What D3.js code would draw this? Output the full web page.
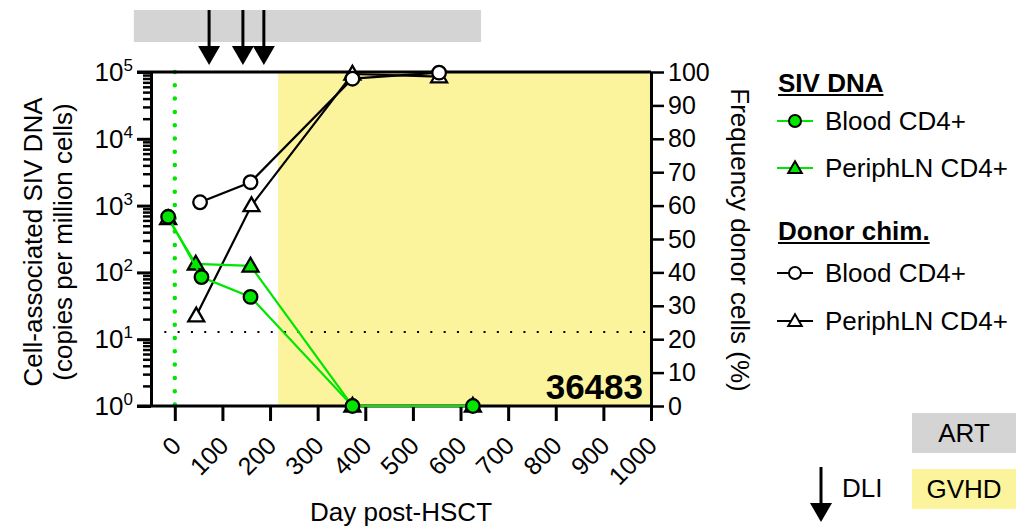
<!DOCTYPE html>
<html>
<head>
<meta charset="utf-8">
<script src="https://cdn.jsdelivr.net/npm/d3@7"></script>
<style>
  html, body { margin: 0; padding: 0; background: #fff; }
  svg { display: block; font-family: "Liberation Sans", Arial, Helvetica, sans-serif; }
</style>
</head>
<body>
<svg id="chart" width="1035" height="530"></svg>
<script>
// ---------------- data ----------------
const sivBloodDays = [-14, 56, 159, 373, 626];
const sivBloodVals = [680, 85, 43, 1, 1];
const sivLNDays = [-14, 44, 159, 373, 626];
const sivLNVals = [640, 134, 125, 1, 1];
const chimBloodDays = [53, 159, 373, 555];
const chimBloodVals = [61, 67, 98, 99.8];
const chimLNDays = [45, 161, 373, 555];
const chimLNVals = [27, 60, 99.4, 98.6];
const dliDays = [72, 143, 187];
const artPeriod = [-86, 643];
const gvhdPeriod = [217, 1000];
const detectionLimit = 12.8;
const detectionStart = -22;
const xTicks = [0, 100, 200, 300, 400, 500, 600, 700, 800, 900, 1000];
const yLeftExponents = [0, 1, 2, 3, 4, 5];
const yRightTicks = [0, 10, 20, 30, 40, 50, 60, 70, 80, 90, 100];
const animalId = "36483";

const GREEN = "#00e600";
const YELLOW = "#fbf49d";
const GRAY = "#d4d4d4";
const FS = 26;

const svg = d3.select("#chart");

const L = 151, R = 651, T = 72, B = 406;
const x = d3.scaleLinear().domain([-50, 1000]).range([L, R]);
const yL = d3.scaleLog().domain([1, 1e5]).range([B, T]);
const yR = d3.scaleLinear().domain([0, 100]).range([B, T]);

// GVHD background
svg.append("rect")
  .attr("x", x(gvhdPeriod[0])).attr("y", T)
  .attr("width", x(gvhdPeriod[1]) - x(gvhdPeriod[0]))
  .attr("height", B - T)
  .attr("fill", YELLOW);

// ART bar
svg.append("rect")
  .attr("x", x(artPeriod[0])).attr("y", 10)
  .attr("width", x(artPeriod[1]) - x(artPeriod[0]))
  .attr("height", 32)
  .attr("fill", GRAY);

// DLI arrows
function arrow(g, cx, y0, y1) {
  g.append("line").attr("x1", cx).attr("x2", cx).attr("y1", y0).attr("y2", y1 - 14)
    .attr("stroke", "#000").attr("stroke-width", 3);
  g.append("path")
    .attr("d", `M${cx - 11},${y1 - 19} L${cx + 11},${y1 - 19} L${cx},${y1} Z`)
    .attr("fill", "#000");
}
const arrowsG = svg.append("g");
dliDays.forEach(d => arrow(arrowsG, x(d), 10, 65));

// dotted lines
svg.append("line")
  .attr("x1", x(0)).attr("x2", x(0)).attr("y1", T).attr("y2", B)
  .attr("stroke", GREEN).attr("stroke-width", 4.5)
  .attr("stroke-linecap", "round").attr("stroke-dasharray", "0 13.3");
svg.append("line")
  .attr("x1", x(detectionStart)).attr("x2", R).attr("y1", yL(detectionLimit)).attr("y2", yL(detectionLimit))
  .attr("stroke", "#000").attr("stroke-width", 2)
  .attr("stroke-dasharray", "2 11.3");

// frame top line
svg.append("line").attr("x1", 137).attr("x2", R).attr("y1", T).attr("y2", T)
  .attr("stroke", "#000").attr("stroke-width", 3);

// ---------------- axes ----------------
const minorVals = [];
for (let e = 0; e < 5; e++) for (let m = 2; m <= 9; m++) minorVals.push(m * Math.pow(10, e));
const leftMinor = svg.append("g").attr("transform", `translate(${L},0)`)
  .call(d3.axisLeft(yL).tickValues(minorVals).tickSize(8).tickFormat(""));
leftMinor.select(".domain").remove();
leftMinor.selectAll(".tick line").attr("stroke-width", 2.5);

const leftMajor = svg.append("g").attr("transform", `translate(${L},0)`)
  .call(d3.axisLeft(yL).tickValues(yLeftExponents.map(e => Math.pow(10, e))).tickSize(14).tickSizeOuter(0).tickFormat(""));
leftMajor.select(".domain").attr("stroke-width", 3);
leftMajor.selectAll(".tick line").attr("stroke-width", 3);

const leftLabels = svg.append("g");
yLeftExponents.forEach(e => {
  const t = leftLabels.append("text")
    .attr("x", 133).attr("y", yL(Math.pow(10, e)) + 9)
    .attr("text-anchor", "end").attr("font-size", FS).attr("fill", "#000");
  t.append("tspan").text("10");
  t.append("tspan").attr("dy", -10).attr("font-size", 17).text(String(e));
});

// right axis
const rightAx = svg.append("g").attr("transform", `translate(${R},0)`)
  .call(d3.axisRight(yR).tickValues(yRightTicks).tickSize(13).tickPadding(4).tickSizeOuter(0));
rightAx.select(".domain").attr("stroke-width", 3);
rightAx.selectAll(".tick line").attr("stroke-width", 2.5);
rightAx.selectAll(".tick text").attr("font-size", 25).attr("fill", "#000")
  .attr("font-family", "Liberation Sans, Arial, sans-serif");

// bottom axis
const bottomAx = svg.append("g").attr("transform", `translate(0,${B})`)
  .call(d3.axisBottom(x).tickValues(xTicks).tickFormat(d3.format("d")).tickSize(15).tickSizeOuter(0));
bottomAx.select(".domain").remove();
svg.append("line").attr("x1", 137).attr("x2", R + 1.5).attr("y1", B).attr("y2", B)
  .attr("stroke", "#000").attr("stroke-width", 3);
bottomAx.selectAll(".tick line").attr("stroke-width", 3);
bottomAx.selectAll(".tick text")
  .attr("x", 0).attr("y", 0).attr("dy", "0.35em")
  .attr("text-anchor", "end")
  .attr("transform", "translate(1,35) rotate(-45)")
  .attr("font-size", 25).attr("fill", "#000")
  .attr("font-family", "Liberation Sans, Arial, sans-serif");

// axis titles
svg.append("text").attr("transform", "translate(42,242) rotate(-90)")
  .attr("text-anchor", "middle").attr("font-size", FS).text("Cell-associated SIV DNA");
svg.append("text").attr("transform", "translate(72,242) rotate(-90)")
  .attr("text-anchor", "middle").attr("font-size", FS).text("(copies per million cells)");
svg.append("text").attr("transform", "translate(731,240) rotate(90)")
  .attr("text-anchor", "middle").attr("font-size", FS).text("Frequency donor cells (%)");
svg.append("text").attr("x", 401).attr("y", 521)
  .attr("text-anchor", "middle").attr("font-size", FS).text("Day post-HSCT");

// ---------------- series ----------------
const tri = d3.symbol(d3.symbolTriangle, 110);
function series(days, vals, yScale, color, shape, fill) {
  const pts = days.map((d, i) => [x(d), yScale(vals[i])]);
  const g = svg.append("g");
  g.append("path").attr("d", d3.line()(pts))
    .attr("fill", "none").attr("stroke", color).attr("stroke-width", 2.2);
  pts.forEach(p => {
    if (shape === "circle") {
      g.append("circle").attr("cx", p[0]).attr("cy", p[1]).attr("r", 6.8)
        .attr("fill", fill).attr("stroke", "#000").attr("stroke-width", 2.3);
    } else {
      g.append("path").attr("d", tri()).attr("transform", `translate(${p[0]},${p[1] + 1})`)
        .attr("fill", fill).attr("stroke", "#000").attr("stroke-width", 2.3);
    }
  });
}
series(chimLNDays, chimLNVals, yR, "#000", "triangle", "#fff");
series(chimBloodDays, chimBloodVals, yR, "#000", "circle", "#fff");
series(sivLNDays, sivLNVals, yL, GREEN, "triangle", GREEN);
series(sivBloodDays, sivBloodVals, yL, GREEN, "circle", GREEN);

// animal id
svg.append("text").attr("x", 643).attr("y", 399).attr("text-anchor", "end")
  .attr("font-size", 35).attr("font-weight", "bold").text(animalId);

// ---------------- legend ----------------
function legHeader(label, yBase) {
  const t = svg.append("text").attr("x", 778).attr("y", yBase)
    .attr("font-size", FS).attr("font-weight", "bold").text(label);
  const w = t.node().getComputedTextLength();
  svg.append("line").attr("x1", 778).attr("x2", 778 + w).attr("y1", yBase + 3).attr("y2", yBase + 3)
    .attr("stroke", "#000").attr("stroke-width", 2);
}
function legItem(label, yc, color, shape, fill) {
  svg.append("line").attr("x1", 777).attr("x2", 813).attr("y1", yc).attr("y2", yc)
    .attr("stroke", color).attr("stroke-width", 2);
  if (shape === "circle") {
    svg.append("circle").attr("cx", 795).attr("cy", yc).attr("r", 6)
      .attr("fill", fill).attr("stroke", "#000").attr("stroke-width", 2);
  } else {
    svg.append("path").attr("d", d3.symbol(d3.symbolTriangle, 80)()).attr("transform", `translate(795,${yc + 1})`)
      .attr("fill", fill).attr("stroke", "#000").attr("stroke-width", 2);
  }
  svg.append("text").attr("x", 825).attr("y", yc + 9).attr("font-size", FS).text(label);
}
legHeader("SIV DNA", 92);
legItem("Blood CD4+", 121, GREEN, "circle", GREEN);
legItem("PeriphLN CD4+", 168, GREEN, "triangle", GREEN);
legHeader("Donor chim.", 240);
legItem("Blood CD4+", 273, "#000", "circle", "#fff");
legItem("PeriphLN CD4+", 321, "#000", "triangle", "#fff");

// bottom-right key
svg.append("rect").attr("x", 912).attr("y", 413).attr("width", 104).attr("height", 40).attr("fill", GRAY);
svg.append("text").attr("x", 964).attr("y", 442).attr("text-anchor", "middle").attr("font-size", FS).text("ART");
svg.append("rect").attr("x", 912).attr("y", 469).attr("width", 104).attr("height", 40).attr("fill", YELLOW);
svg.append("text").attr("x", 964).attr("y", 498).attr("text-anchor", "middle").attr("font-size", FS).text("GVHD");
arrow(svg.append("g"), 821, 467, 522);
svg.append("text").attr("x", 842).attr("y", 497).attr("font-size", FS).text("DLI");
</script>
</body>
</html>
